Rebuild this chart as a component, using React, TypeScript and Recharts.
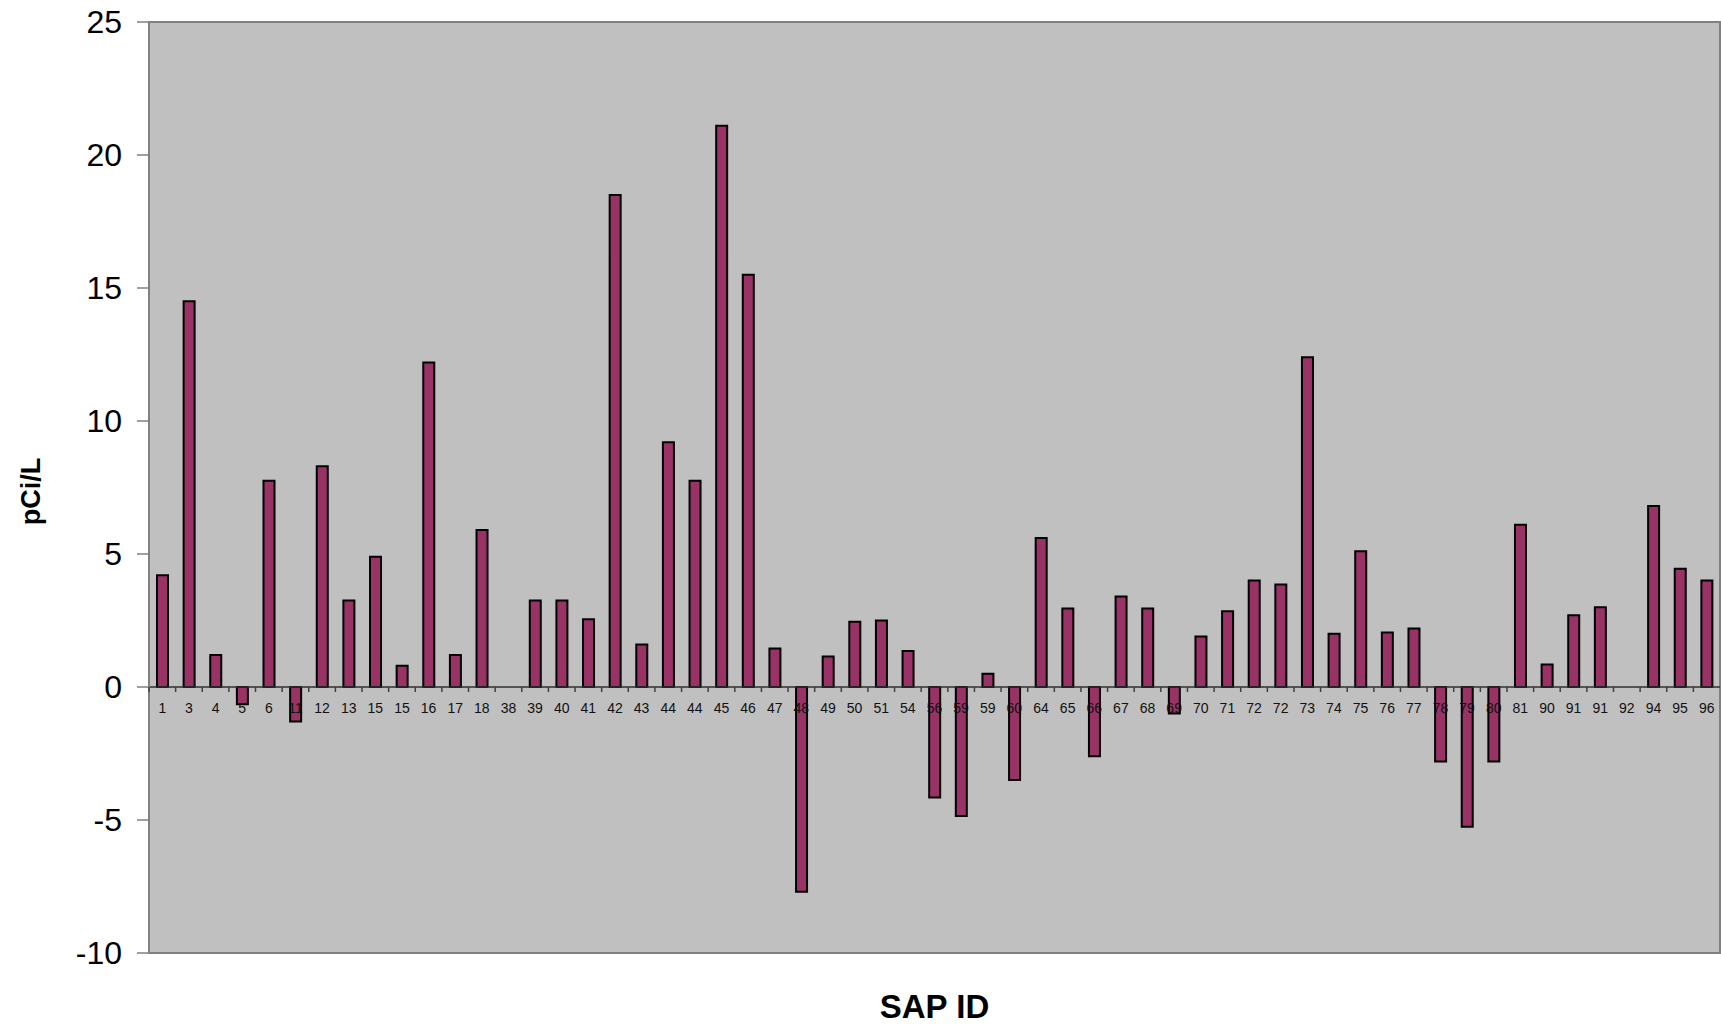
import React from "react";
import {
  BarChart,
  Bar,
  XAxis,
  YAxis,
  CartesianGrid,
  ReferenceLine,
  ReferenceArea,
} from "recharts";

const sapIds = [
  "1", "3", "4", "5", "6", "11", "12", "13", "15", "15",
  "16", "17", "18", "38", "39", "40", "41", "42", "43", "44",
  "44", "45", "46", "47", "48", "49", "50", "51", "54", "56",
  "59", "59", "60", "64", "65", "66", "67", "68", "69", "70",
  "71", "72", "72", "73", "74", "75", "76", "77", "78", "79",
  "80", "81", "90", "91", "91", "92", "94", "95", "96",
];

const pciValues = [
  4.2, 14.5, 1.2, -0.65, 7.75, -1.3, 8.3, 3.25, 4.9, 0.8,
  12.2, 1.2, 5.9, 0, 3.25, 3.25, 2.55, 18.5, 1.6, 9.2,
  7.75, 21.1, 15.5, 1.45, -7.7, 1.15, 2.45, 2.5, 1.35, -4.15,
  -4.85, 0.5, -3.5, 5.6, 2.95, -2.6, 3.4, 2.95, -1.0, 1.9,
  2.85, 4.0, 3.85, 12.4, 2.0, 5.1, 2.05, 2.2, -2.8, -5.25,
  -2.8, 6.1, 0.85, 2.7, 3.0, 0, 6.8, 4.45, 4.0,
];

const yTicks = [-10, -5, 0, 5, 10, 15, 20, 25];
const Y_MIN = -10;
const Y_MAX = 25;

const data = sapIds.map((id, i) => ({ idx: i, id, value: pciValues[i] }));

const W = 1721;
const H = 1024;
const TOP = 22;
const LEFT = 149;
const RIGHT = 1;
const X_AXIS_H = 71;
const PLOT_H = H - TOP - X_AXIS_H;
const BAND = (W - LEFT - RIGHT) / sapIds.length;
// distance from the plot bottom up to the zero line
const ZERO_UP = (PLOT_H * (0 - Y_MIN)) / (Y_MAX - Y_MIN);
const FONT = "'Liberation Sans', Arial, sans-serif";

// category label + small tick, drawn along the zero line
function IdTick(props: any) {
  const { x, y, payload } = props;
  const zero = y - ZERO_UP;
  const id = sapIds[payload.value];
  return (
    <g>
      <line x1={x - BAND / 2} x2={x - BAND / 2} y1={zero} y2={zero + 5} stroke="#404040" strokeWidth={1.5} />
      <text x={x} y={zero + 26} textAnchor="middle" fontSize={14} fontFamily={FONT} fill="#111">
        {id}
      </text>
    </g>
  );
}

function YTitle(props: any) {
  const vb = props.viewBox;
  const cx = vb.x + 31;
  const cy = vb.y + vb.height / 2 + 4;
  return (
    <text
      x={cx}
      y={cy}
      transform={`rotate(-90 ${cx} ${cy})`}
      textAnchor="middle"
      dominantBaseline="central"
      fontSize={27}
      fontWeight="bold"
      fontFamily={FONT}
      fill="#000"
    >
      pCi/L
    </text>
  );
}

export default function App() {
  return (
    <div style={{ position: "absolute", left: 0, top: 0, width: W, height: H, background: "#fff" }}>
      <BarChart
        width={W}
        height={H}
        data={data}
        margin={{ top: TOP, right: RIGHT, left: 0, bottom: 0 }}
        barCategoryGap={0}
      >
        <CartesianGrid horizontal={false} vertical={false} fill="#C0C0C0" fillOpacity={1} />
        <ReferenceArea y1={Y_MIN} y2={Y_MAX} fill="none" stroke="#808080" strokeWidth={2} />
        <XAxis
          dataKey="idx"
          type="category"
          height={X_AXIS_H}
          interval={0}
          tick={<IdTick />}
          tickSize={0}
          tickMargin={0}
          tickLine={false}
          axisLine={false}
          label={{
            value: "SAP ID",
            position: "insideBottom",
            offset: 6,
            fontSize: 33,
            fontWeight: "bold",
            fontFamily: FONT,
            fill: "#000",
          }}
        />
        <YAxis
          width={LEFT}
          domain={[Y_MIN, Y_MAX]}
          ticks={yTicks}
          interval={0}
          allowDataOverflow
          axisLine={{ stroke: "#808080", strokeWidth: 2 }}
          tickLine={{ stroke: "#808080", strokeWidth: 1.5 }}
          tickSize={12}
          tickMargin={15}
          tick={{ fontSize: 32, fontFamily: FONT, fill: "#000" }}
          label={<YTitle />}
        />
        <ReferenceLine y={0} stroke="#303030" strokeWidth={1.5} />
        <Bar
          dataKey="value"
          fill="#993366"
          stroke="#000"
          strokeWidth={2}
          barSize={11}
          isAnimationActive={false}
        />
      </BarChart>
    </div>
  );
}
